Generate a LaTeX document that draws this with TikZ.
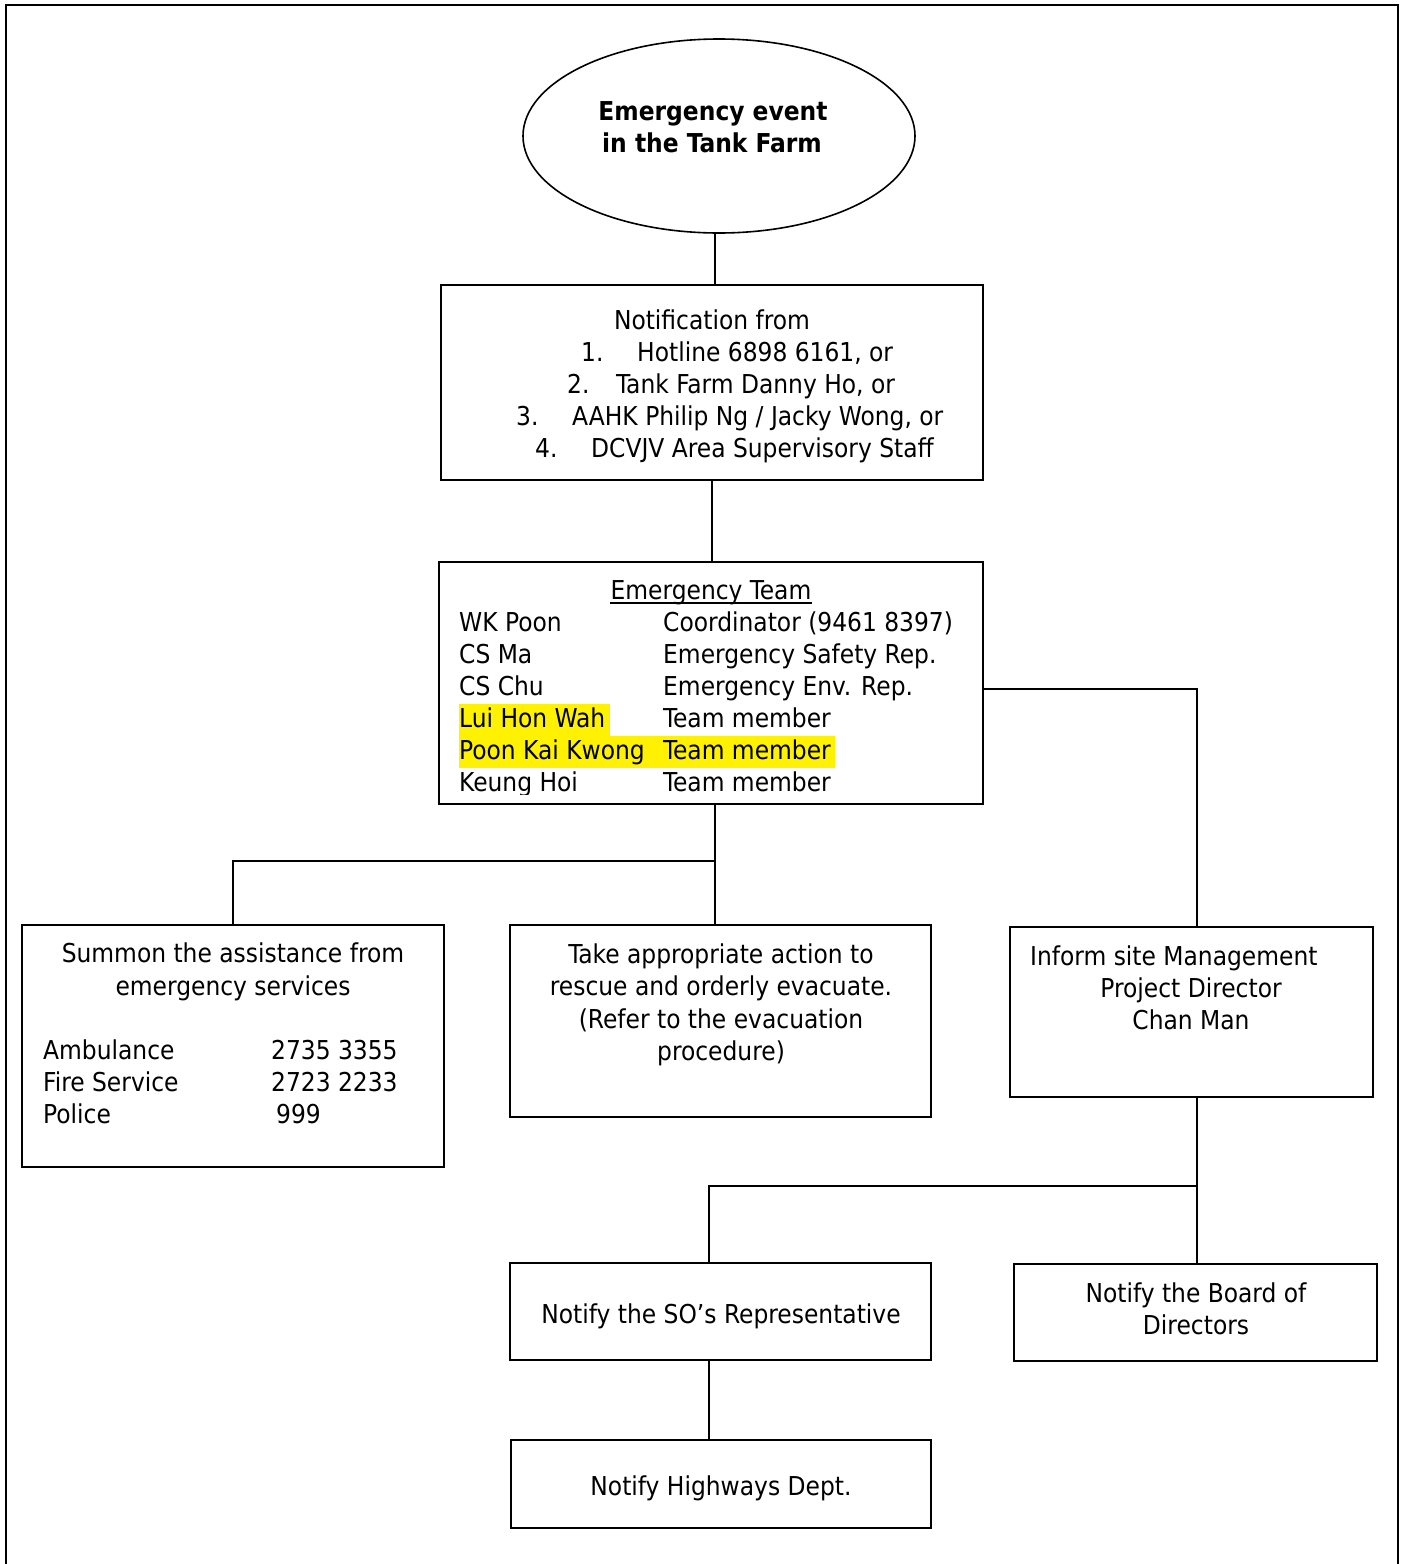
\documentclass[tikz,border=0pt]{standalone}
\usepackage{fontspec}
\setmainfont{DejaVu Sans Condensed}
\usetikzlibrary{shapes.geometric,backgrounds}
\newcommand\dgfs{\fontsize{26}{32}\selectfont}
\begin{document}
\begin{tikzpicture}[x=1pt,y=-1pt,
  box/.style={draw, line width=1.6pt, inner sep=0pt, rectangle},
  conn/.style={line width=1.3pt},
  txt/.style={inner sep=0pt, anchor=base, font=\dgfs},
  txtl/.style={inner sep=0pt, anchor=base west, font=\dgfs},
  hl/.style={fill=yellow, text height=23pt, text depth=9pt}]
\useasboundingbox (0,0) rectangle (1404,1564);
\draw[line width=1.5pt] (6,1600) -- (6,5) -- (1398,5) -- (1398,1600);

% boxes
\node[ellipse, draw, line width=1.6pt, minimum width=392pt, minimum height=194pt, inner sep=0pt] (ell) at (719,136) {};
\node[box, minimum width=542pt, minimum height=195pt] (b1) at (712,382.5) {};
\node[box, minimum width=544pt, minimum height=242pt] (b2) at (711,683) {};
\node[box, minimum width=422pt, minimum height=242pt] (bL) at (233,1046) {};
\node[box, minimum width=421pt, minimum height=192pt] (bM) at (720.5,1021) {};
\node[box, minimum width=363pt, minimum height=170pt] (bR) at (1191.5,1012) {};
\node[box, minimum width=421pt, minimum height=97pt] (bSO) at (720.5,1311.5) {};
\node[box, minimum width=363pt, minimum height=97pt] (bBD) at (1195.5,1312.5) {};
\node[box, minimum width=420pt, minimum height=88pt] (bHW) at (721,1484) {};

% connectors
\draw[conn] (715,0 |- ell.south) -- (715,0 |- b1.north);
\draw[conn] (712,0 |- b1.south) -- (712,0 |- b2.north);
\draw[conn] (715,0 |- b2.south) -- (715,0 |- bM.north);
\draw[conn] (bL.north) |- (715,861);
\draw[conn] (b2.east |- 0,689) -| (1197,0 |- bR.north);
\draw[conn] (1197,0 |- bR.south) -- (1197,0 |- bBD.north);
\draw[conn] (1197,1186) -| (709,0 |- bSO.north);
\draw[conn] (709,0 |- bSO.south) -- (709,0 |- bHW.north);

% ellipse text
\node[txt] (e1) at (713,120) {\textbf{Emergency event}};
\node[txt] (e2) at (712,152) {\textbf{in the Tank Farm}};

% notification box
\node[txt] (n0) at (712,329) {Notification from};
\node[txtl] (n1a) at (581,361) {1.};
\node[txtl] (n1b) at (637,361) {Hotline 6898 6161, or};
\node[txtl] (n2a) at (567,393) {2.};
\node[txtl] (n2b) at (616,393) {Tank Farm Danny Ho, or};
\node[txtl] (n3a) at (516,425) {3.};
\node[txtl] (n3b) at (572,425) {AAHK Philip Ng / Jacky Wong, or};
\node[txtl] (n4a) at (535,457) {4.};
\node[txtl] (n4b) at (591,457) {DCVJV Area Supervisory Staff};

% emergency team
\node[txt] (t0) at (711,599) {Emergency Team};
\draw[line width=1.8pt] ([yshift=-4pt]t0.base west) -- ([yshift=-4pt]t0.base east);
\node[txtl] (t1a) at (459,631) {WK Poon};
\node[txtl] (t1b) at (663,631) {Coordinator (9461 8397)};
\node[txtl] (t2a) at (459,663) {CS Ma};
\node[txtl] (t2b) at (663,663) {Emergency Safety Rep.};
\node[txtl] (t3a) at (459,695) {CS Chu};
\node[txtl] (t3b) at (663,695) {Emergency Env. Rep.};
\node[txtl, hl] (t4a) at (459,727) {Lui Hon Wah\kern5pt};
\node[txtl] (t4b) at (663,727) {Team member};
\node[txtl, text height=23pt, text depth=9pt] (t5a) at (459,759) {Poon Kai Kwong};
\node[txtl, text height=23pt, text depth=9pt] (t5b) at (663,759) {Team member\kern4pt};
\begin{pgfonlayer}{background}
\fill[yellow] (t5a.north west) rectangle (t5b.south east);
\end{pgfonlayer}
\begin{scope}
\clip (441,770) rectangle (982,794);
\node[txtl] (t6a) at (459,791) {Keung Hoi};
\node[txtl] (t6b) at (663,791) {Team member};
\end{scope}

% summon box
\node[txt] (s1) at (233,962) {Summon the assistance from};
\node[txt] (s2) at (233,995) {emergency services};
\node[txtl] (s3a) at (43,1059) {Ambulance};
\node[txtl] (s3b) at (271,1059) {2735 3355};
\node[txtl] (s4a) at (43,1091) {Fire Service};
\node[txtl] (s4b) at (271,1091) {2723 2233};
\node[txtl] (s5a) at (43,1123) {Police};
\node[txtl] (s5b) at (276,1123) {999};

% action box
\node[txt] (m1) at (721,963) {Take appropriate action to};
\node[txt] (m2) at (721,995) {rescue and orderly evacuate.};
\node[txt] (m3) at (721,1028) {(Refer to the evacuation};
\node[txt] (m4) at (721,1060) {procedure)};

% inform box
\node[txtl] (r1) at (1030,965) {Inform site Management};
\node[txt] (r2) at (1191,997) {Project Director};
\node[txt] (r3) at (1191,1029) {Chan Man};

% lower boxes
\node[txt] (so) at (721,1323) {Notify the SO’s Representative};
\node[txt] (bd1) at (1196,1302) {Notify the Board of};
\node[txt] (bd2) at (1196,1334) {Directors};
\node[txt] (hw) at (721,1495) {Notify Highways Dept.};
\end{tikzpicture}
\end{document}
